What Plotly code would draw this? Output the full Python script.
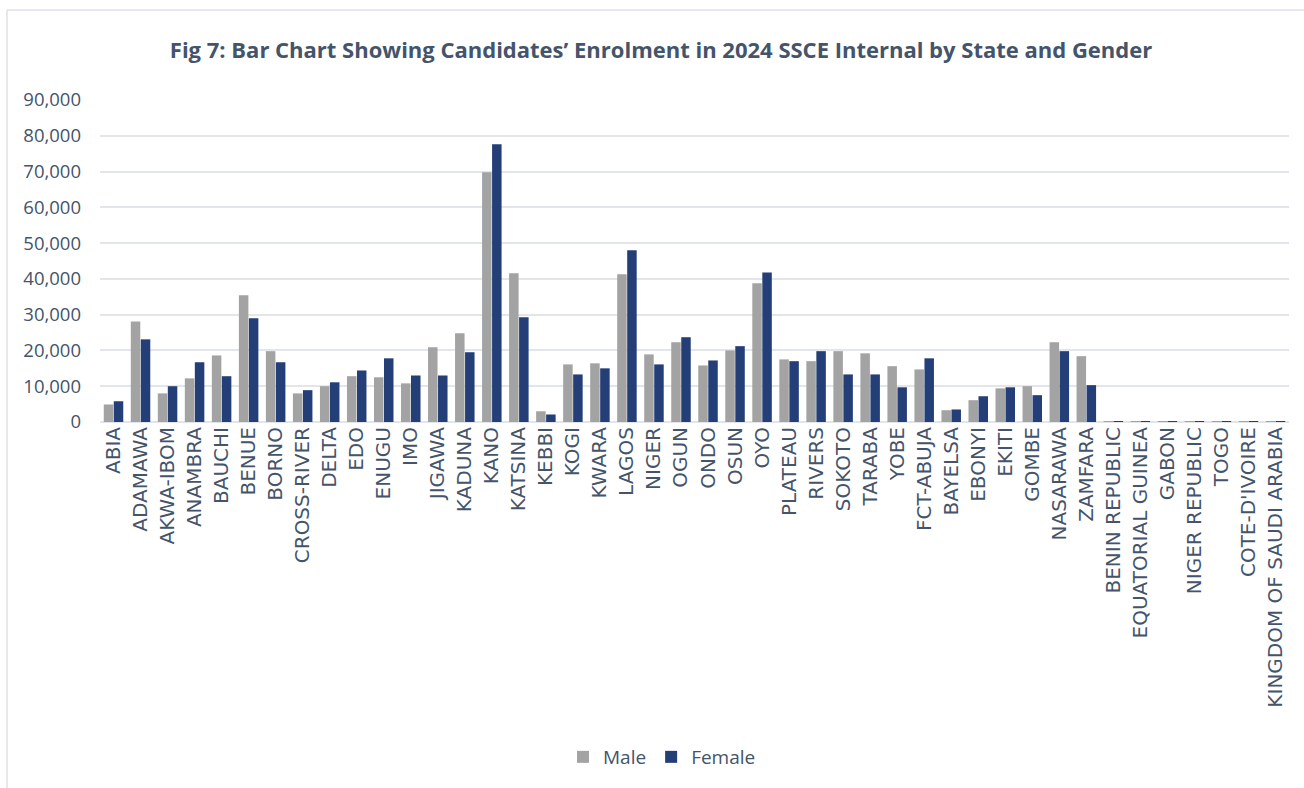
import plotly.graph_objects as go

# Enrolment by state / country and gender
states = [
    "ABIA", "ADAMAWA", "AKWA-IBOM", "ANAMBRA", "BAUCHI", "BENUE", "BORNO",
    "CROSS-RIVER", "DELTA", "EDO", "ENUGU", "IMO", "JIGAWA", "KADUNA", "KANO",
    "KATSINA", "KEBBI", "KOGI", "KWARA", "LAGOS", "NIGER", "OGUN", "ONDO",
    "OSUN", "OYO", "PLATEAU", "RIVERS", "SOKOTO", "TARABA", "YOBE",
    "FCT-ABUJA", "BAYELSA", "EBONYI", "EKITI", "GOMBE", "NASARAWA", "ZAMFARA",
    "BENIN REPUBLIC", "EQUATORIAL GUINEA", "GABON", "NIGER REPUBLIC", "TOGO",
    "COTE-D'IVOIRE", "KINGDOM OF SAUDI ARABIA",
]

male = [
    4900, 28100, 8000, 12200, 18600, 35400, 19800,
    8000, 10000, 12800, 12500, 10800, 20900, 24800, 69800,
    41600, 3000, 16100, 16400, 41300, 18900, 22300, 15800,
    20000, 38800, 17500, 17000, 19800, 19200, 15600,
    14700, 3300, 6100, 9400, 10000, 22300, 18400,
    180, 150, 160, 170, 150, 160, 170,
]

female = [
    5800, 23100, 10000, 16700, 12800, 29000, 16700,
    8900, 11100, 14400, 17800, 13000, 13000, 19500, 77600,
    29300, 2100, 13300, 15000, 48000, 16100, 23700, 17200,
    21200, 41800, 17000, 19800, 13300, 13300, 9700,
    17800, 3500, 7200, 9700, 7500, 19800, 10300,
    140, 120, 130, 150, 120, 130, 140,
]

y_ticks = list(range(0, 90001, 10000))
y_tick_text = [f"{v:,}" for v in y_ticks]

TEXT = "#44546A"
GRID = "#E2E5EA"

fig = go.Figure()
fig.add_trace(go.Bar(name="Male", x=states, y=male,
                     marker=dict(color="#A3A3A3", line=dict(width=0))))
fig.add_trace(go.Bar(name="Female", x=states, y=female,
                     marker=dict(color="#243F78", line=dict(width=0))))

# plot-area geometry in pixels, used to place the outer frame lines
L, R, T, B = 100, 15, 100, 366
W, H = 1304, 788
pw, ph = W - L - R, H - T - B


def px(x):
    return (x - L) / pw


def py(y):
    return (H - B - y) / ph


frame = dict(color="#DDE2EA", width=1.5)
shapes = [
    dict(type="line", xref="paper", yref="paper", x0=px(7), x1=px(1304),
         y0=py(10), y1=py(10), line=frame),
    dict(type="line", xref="paper", yref="paper", x0=px(7), x1=px(7),
         y0=py(10), y1=py(788), line=frame),
]

fig.update_layout(
    width=W, height=H,
    margin=dict(l=L, r=R, t=T, b=B),
    paper_bgcolor="white", plot_bgcolor="white",
    barmode="group", bargap=0.26, bargroupgap=0.05,
    title=dict(
        text="<b>Fig 7: Bar Chart Showing Candidates’ Enrolment in 2024 SSCE Internal by State and Gender</b>",
        x=px(661), xref="paper", xanchor="center",
        y=1 - 50 / H, yanchor="middle",
        font=dict(family="Open Sans", size=22, color=TEXT),
    ),
    font=dict(family="Open Sans", color=TEXT),
    xaxis=dict(
        tickangle=-90, tickfont=dict(family="DejaVu Sans", size=20, color=TEXT),
        showgrid=False, showline=False, ticks="", ticklen=0,
        automargin=False,
    ),
    yaxis=dict(
        range=[0, 90000], tickvals=y_ticks, ticktext=y_tick_text,
        tickfont=dict(size=18.5, color=TEXT),
        showgrid=True, gridcolor=GRID, gridwidth=2,
        zeroline=True, zerolinecolor=GRID, zerolinewidth=2,
        ticks="", automargin=False, ticklabelstandoff=18,
    ),
    legend=dict(
        orientation="h", x=px(662), xanchor="center",
        y=py(757), yanchor="middle",
        font=dict(size=19, color=TEXT), itemwidth=30,
        traceorder="normal",
    ),
    shapes=shapes,
    showlegend=True,
)

fig.write_html("out.html")
